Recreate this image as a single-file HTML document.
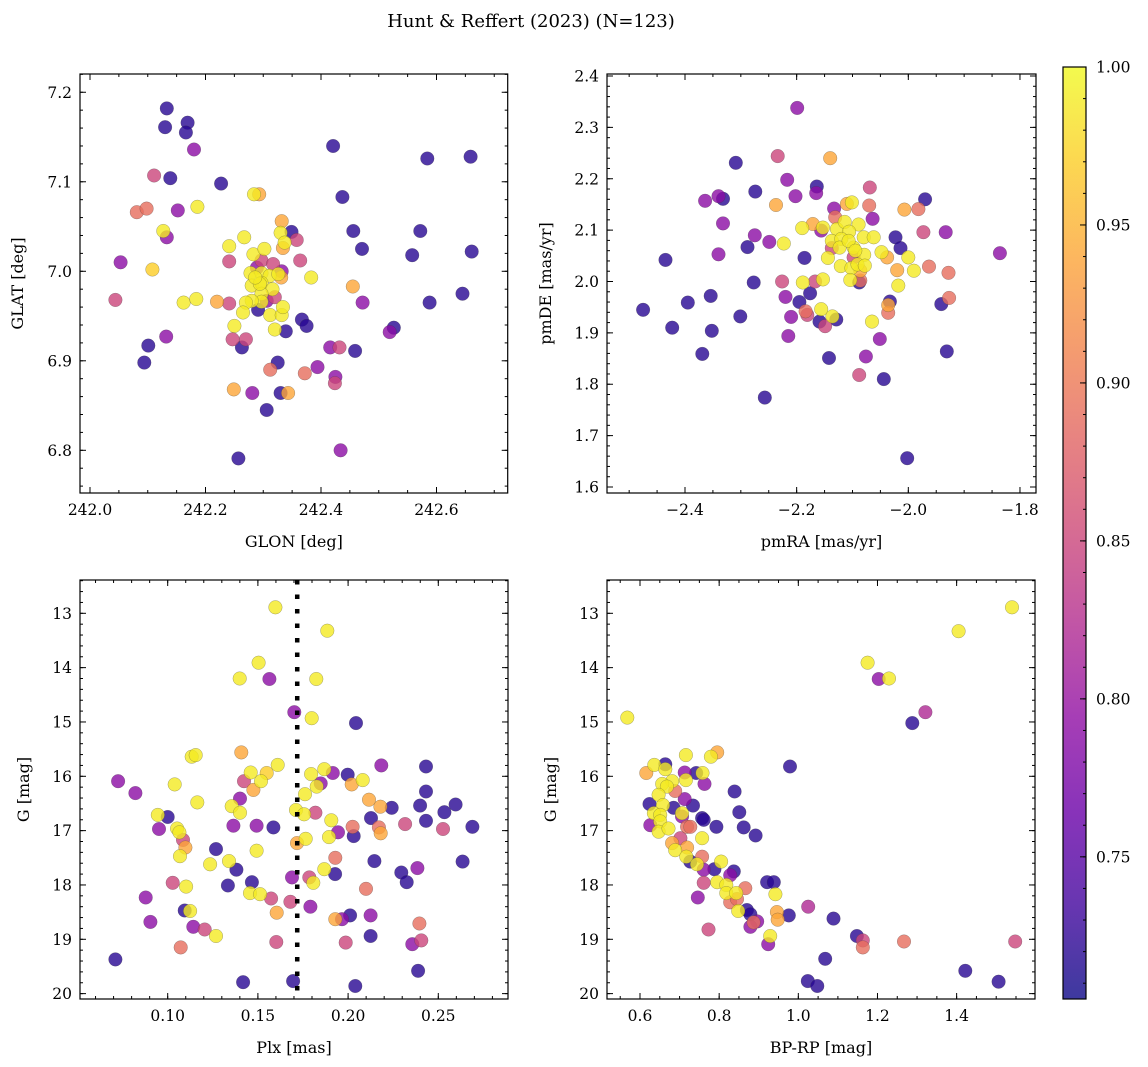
<!DOCTYPE html>
<html><head><meta charset="utf-8">
<style>
html,body{margin:0;padding:0;background:#fff;}
svg{display:block;font-family:"DejaVu Serif","Liberation Serif",serif;}
</style></head>
<body>
<svg id="chart" width="1148" height="1067" viewBox="0 0 1148 1067" xmlns="http://www.w3.org/2000/svg">
<text x="531" y="27" font-size="18" text-anchor="middle">Hunt &amp; Reffert (2023) (N=123)</text>
</svg>
<script>
// ---- data: top-left (GLON vs GLAT) ----
const tlGlon=[242.133,242.130,242.169,242.166,242.180,242.111,242.139,242.227,242.081,242.098,
242.152,242.186,242.284,242.293,242.127,242.133,242.053,242.108,242.241,242.267,
242.241,242.044,242.162,242.184,242.220,242.241,242.332,242.330,242.349,242.337,
242.334,242.358,242.283,242.302,242.364,242.297,242.317,242.332,242.289,242.278,
242.297,242.311,242.326,242.331,242.383,242.280,242.297,242.316,242.297,242.320,
242.306,242.297,242.280,242.270,242.291,242.265,242.312,242.332,242.334,242.250,
242.320,242.339,242.367,242.375,242.247,242.270,242.263,242.455,242.472,242.421,
242.437,242.456,242.471,242.584,242.659,242.572,242.558,242.661,242.588,242.645,
242.526,242.519,242.132,242.101,242.094,242.416,242.432,242.459,242.325,242.312,
242.372,242.394,242.425,242.424,242.249,242.281,242.330,242.343,242.306,242.257,
242.434,242.294,242.286];
const tlGlat=[7.182,7.161,7.166,7.155,7.136,7.107,7.104,7.098,7.066,7.070,
7.068,7.072,7.086,7.086,7.045,7.038,7.010,7.002,7.028,7.038,
7.011,6.968,6.965,6.969,6.966,6.964,7.056,7.043,7.044,7.032,
7.026,7.035,7.019,7.025,7.012,7.012,7.008,7.000,7.004,6.998,
6.998,6.995,6.997,6.993,6.993,6.984,6.987,6.980,6.975,6.971,
6.967,6.966,6.967,6.965,6.957,6.954,6.951,6.951,6.960,6.939,
6.935,6.933,6.946,6.939,6.924,6.924,6.915,6.983,6.965,7.140,
7.083,7.045,7.025,7.126,7.128,7.045,7.018,7.022,6.965,6.975,
6.937,6.932,6.927,6.917,6.898,6.915,6.915,6.911,6.898,6.890,
6.886,6.893,6.882,6.875,6.868,6.864,6.864,6.864,6.845,6.791,
6.800,6.986,6.993];
const tlProb=[.72,.72,.72,.72,.79,.85,.72,.72,.89,.89,
.79,.99,.99,.94,.99,.79,.79,.97,.99,.99,
.85,.85,.99,.99,.94,.85,.94,.99,.72,.99,
.94,.85,.99,.99,.85,.85,.85,.79,.79,.99,
.99,.99,.99,.94,.99,.99,.99,.99,.99,.85,
.79,.99,.99,.99,.72,.99,.99,.99,.99,.99,
.99,.72,.72,.72,.85,.85,.72,.94,.79,.72,
.72,.72,.72,.72,.72,.72,.72,.72,.72,.72,
.72,.79,.79,.72,.72,.79,.85,.72,.72,.89,
.89,.79,.79,.85,.94,.79,.72,.94,.72,.72,
.79,.99,.99];
// ---- data: top-right (pmRA vs pmDE) ----
const trPmra=[-2.199,-2.309,-2.234,-2.140,-2.217,-2.164,-2.165,-2.202,-2.274,-2.364,
-2.340,-2.332,-2.332,-2.237,-2.069,-2.110,-2.101,-2.070,-2.133,-2.131,
-2.064,-1.970,-2.007,-1.982,-2.275,-2.249,-2.288,-2.340,-2.435,-2.223,
-2.190,-2.171,-2.153,-2.156,-2.128,-2.114,-2.089,-2.106,-2.080,-2.137,
-2.120,-2.123,-2.098,-2.137,-2.062,-2.023,-2.014,-2.048,-2.038,-2.079,
-2.098,-2.144,-2.121,-2.102,-2.091,-2.078,-2.086,-2.000,-2.020,-1.990,
-1.963,-1.973,-1.933,-1.928,-1.836,-2.186,-2.104,-2.088,-2.086,-2.153,
-2.167,-2.189,-2.226,-2.277,-2.176,-2.220,-2.195,-2.018,-2.033,-2.036,
-2.036,-1.941,-1.927,-2.184,-2.181,-2.156,-2.159,-2.149,-2.136,-2.129,
-2.065,-2.210,-2.215,-2.301,-2.354,-2.395,-2.475,-2.423,-2.352,-2.369,
-2.142,-2.076,-2.051,-2.088,-2.044,-1.931,-2.257,-2.002,-2.107,-2.095];
const trPmde=[2.338,2.231,2.244,2.240,2.198,2.185,2.172,2.166,2.175,2.157,
2.166,2.161,2.113,2.149,2.183,2.151,2.154,2.148,2.142,2.125,
2.122,2.160,2.140,2.141,2.090,2.077,2.067,2.053,2.042,2.074,
2.104,2.112,2.105,2.099,2.102,2.116,2.111,2.097,2.086,2.079,
2.083,2.066,2.066,2.065,2.086,2.086,2.065,2.057,2.047,2.052,
2.047,2.046,2.030,2.026,2.033,2.031,2.021,2.047,2.022,2.021,
2.029,2.096,2.096,2.017,2.055,2.046,2.003,1.998,2.002,2.004,
2.000,1.998,2.000,1.998,1.977,1.970,1.960,1.992,1.961,1.954,
1.939,1.956,1.968,1.942,1.935,1.946,1.922,1.913,1.932,1.926,
1.922,1.931,1.894,1.932,1.972,1.959,1.945,1.910,1.904,1.859,
1.851,1.854,1.888,1.818,1.810,1.864,1.774,1.656,2.079,2.060];
const trProb=[.79,.72,.85,.94,.79,.72,.79,.79,.72,.79,
.79,.72,.79,.94,.85,.94,.99,.89,.79,.89,
.79,.72,.94,.89,.79,.79,.72,.79,.72,.99,
.99,.94,.99,.79,.99,.99,.99,.99,.99,.99,
.99,.99,.99,.85,.99,.72,.72,.99,.94,.99,
.85,.99,.99,.99,.99,.99,.94,.99,.94,.99,
.89,.85,.79,.89,.79,.72,.99,.72,.89,.99,
.85,.99,.85,.72,.72,.79,.72,.99,.72,.94,
.89,.72,.89,.89,.85,.99,.72,.85,.99,.72,
.99,.79,.79,.72,.72,.72,.72,.72,.72,.72,
.72,.79,.79,.85,.72,.72,.72,.72,.99,.99];
// ---- data: bottom-left (Plx vs G) ----
const blPlx=[0.1597,0.1885,0.1504,0.1399,0.1564,0.1824,0.1702,0.1798,0.2044,0.1408,
0.1133,0.1155,0.1610,0.1460,0.1549,0.1517,0.1423,0.1475,0.0725,0.0821,
0.1039,0.1164,0.1401,0.1355,0.1401,0.0945,0.1000,0.0952,0.1052,0.1065,
0.1085,0.1098,0.1068,0.1268,0.1235,0.1340,0.1364,0.1493,0.1586,0.1493,
0.1381,0.1334,0.1467,0.1456,0.1512,0.1573,0.1604,0.1680,0.1689,0.1028,
0.1102,0.0878,0.1094,0.1124,0.0904,0.1142,0.1205,0.1268,0.1072,0.0710,
0.1602,0.1418,0.1695,0.2040,0.1795,0.1868,0.1915,0.1848,0.1826,0.1761,
0.1711,0.1756,0.1819,0.1907,0.1894,0.1944,0.1765,0.1717,0.1998,0.2020,
0.2081,0.2116,0.2179,0.2184,0.2432,0.2432,0.2399,0.2242,0.2127,0.2025,
0.2031,0.2171,0.2181,0.2316,0.2432,0.2534,0.2596,0.2526,0.2689,0.2146,
0.1929,0.1928,0.1868,0.1785,0.1807,0.2099,0.2295,0.2384,0.2325,0.1791,
0.1929,0.1966,0.2011,0.2125,0.2125,0.1987,0.2395,0.2356,0.2406,0.2388,0.2635];
const blG=[12.89,13.32,13.91,14.20,14.21,14.21,14.82,14.93,15.02,15.56,
15.64,15.61,15.79,15.93,15.94,16.09,16.09,16.25,16.09,16.31,
16.15,16.48,16.41,16.55,16.67,16.71,16.75,16.97,16.96,17.03,
17.17,17.31,17.47,17.34,17.62,17.56,16.91,16.91,16.94,17.37,
17.72,18.01,17.95,18.15,18.17,18.25,18.51,18.31,17.86,17.96,
18.03,18.23,18.47,18.48,18.68,18.77,18.82,18.94,19.15,19.37,
19.05,19.79,19.77,19.86,15.96,15.87,15.94,16.13,16.19,16.33,
16.62,16.70,16.67,16.81,17.12,17.03,17.15,17.23,15.97,16.15,
16.07,16.43,16.56,15.80,15.82,16.28,16.54,16.58,16.77,16.93,
17.10,16.94,17.05,16.88,16.82,16.66,16.52,16.97,16.93,17.56,
17.50,17.80,17.71,17.86,17.96,18.07,17.77,17.69,17.95,18.40,
18.63,18.63,18.56,18.56,18.94,19.06,18.71,19.09,19.02,19.58,17.57];
const blProb=[.99,.99,.99,.99,.79,.99,.79,.99,.72,.94,
.99,.99,.99,.99,.97,.99,.85,.94,.79,.79,
.99,.99,.79,.99,.99,.99,.72,.79,.99,.99,
.85,.94,.99,.72,.99,.99,.79,.79,.72,.99,
.72,.72,.72,.99,.99,.85,.94,.85,.79,.85,
.99,.79,.72,.99,.79,.79,.85,.99,.89,.72,
.85,.72,.72,.72,.99,.99,.79,.79,.99,.99,
.99,.99,.85,.99,.99,.79,.99,.94,.72,.94,
.99,.94,.94,.79,.72,.72,.72,.72,.72,.89,
.72,.89,.94,.85,.72,.72,.72,.85,.72,.72,
.89,.72,.99,.85,.99,.89,.72,.79,.72,.79,
.94,.79,.72,.79,.72,.85,.89,.79,.85,.72,.72];
const plxCut=0.1718;
// ---- data: bottom-right (BP-RP vs G) ----
const brBprp=[1.540,1.405,1.175,1.203,1.229,1.321,1.288,0.568,0.979,0.716,
0.779,0.795,0.616,0.636,0.664,0.664,0.713,0.742,0.758,0.763,
0.716,0.681,0.656,0.668,0.689,0.713,0.647,0.624,0.658,0.685,
0.734,0.706,0.757,0.761,0.635,0.651,0.626,0.651,0.706,0.719,
0.727,0.647,0.672,0.702,0.757,0.793,0.839,0.851,0.862,0.892,
0.681,0.689,0.719,0.717,0.727,0.757,0.744,0.761,0.788,0.805,
0.795,0.761,0.837,0.828,0.818,0.818,0.843,0.866,0.828,0.845,
0.746,0.921,0.938,0.942,0.848,0.870,0.879,0.896,0.887,0.879,
0.773,0.946,0.948,0.976,1.025,0.929,0.924,1.089,1.148,1.163,
1.163,1.267,1.548,1.068,1.024,1.048,1.422,1.506];
const brG=[12.89,13.33,13.91,14.21,14.20,14.82,15.02,14.92,15.82,15.61,
15.64,15.56,15.94,15.79,15.78,15.87,15.93,15.94,15.94,16.14,
16.07,16.09,16.14,16.19,16.27,16.42,16.34,16.51,16.53,16.58,
16.54,16.68,16.77,16.80,16.68,16.71,16.90,16.83,16.74,16.93,
16.93,17.02,16.96,17.14,17.14,16.93,16.28,16.66,16.94,17.09,
17.23,17.36,17.31,17.48,17.57,17.48,17.62,17.72,17.71,17.57,
17.95,17.96,17.75,17.82,18.00,18.15,18.15,18.06,18.32,18.26,
18.23,17.95,17.95,18.17,18.48,18.46,18.54,18.67,18.69,18.77,
18.82,18.50,18.64,18.56,18.40,18.94,19.09,18.62,18.94,19.02,
19.15,19.04,19.04,19.36,19.77,19.86,19.58,19.78];
const brProb=[.99,.99,.99,.79,.99,.82,.72,.99,.72,.99,
.99,.94,.94,.99,.72,.99,.79,.72,.99,.79,
.99,.99,.99,.99,.89,.79,.99,.72,.99,.72,
.72,.99,.72,.72,.99,.99,.79,.99,.79,.89,
.89,.99,.99,.85,.99,.72,.72,.72,.72,.72,
.94,.99,.94,.99,.72,.89,.99,.79,.72,.99,
.99,.85,.72,.79,.99,.99,.99,.89,.89,.89,
.79,.72,.72,.99,.99,.72,.72,.79,.89,.79,
.85,.94,.94,.72,.82,.99,.79,.72,.72,.85,
.89,.89,.85,.72,.72,.72,.72,.72];
const cbTicks=[0.75,0.80,0.85,0.90,0.95,1.00];
const cbMin=0.705, cbMax=1.0;

const NS="http://www.w3.org/2000/svg";
const svg=document.getElementById('chart');
function mk(tag,attrs,parent){const e=document.createElementNS(NS,tag);for(const k in attrs)e.setAttribute(k,attrs[k]);(parent||svg).appendChild(e);return e;}
const stops=[[13,8,135],[65,4,157],[106,0,168],[143,13,164],[177,42,144],[204,71,120],[225,100,98],[242,132,75],[252,166,54],[252,206,37],[240,249,33]];
function plasma(t){t=Math.max(0,Math.min(1,t));const f=t*10,i=Math.min(9,Math.floor(f)),u=f-i;const a=stops[i],b=stops[i+1];return 'rgb('+[0,1,2].map(k=>Math.round(a[k]+(b[k]-a[k])*u)).join(',')+')';}
function fmt(v,d){return (v<0?'\u2212':'')+Math.abs(v).toFixed(d);}

function panel(cfg){
  const g=mk('g',{});
  
  
  const sx=v=>cfg.x0+(v-cfg.xd[0])/(cfg.xd[1]-cfg.xd[0])*(cfg.x1-cfg.x0);
  const sy=v=>cfg.yinv? cfg.y0+(v-cfg.yd[0])/(cfg.yd[1]-cfg.yd[0])*(cfg.y1-cfg.y0)
                      : cfg.y1-(v-cfg.yd[0])/(cfg.yd[1]-cfg.yd[0])*(cfg.y1-cfg.y0);
  const clip='clip-'+cfg.name;
  const cp=mk('clipPath',{id:clip},g);mk('rect',{x:cfg.x0,y:cfg.y0,width:cfg.x1-cfg.x0,height:cfg.y1-cfg.y0},cp);
  const pg=mk('g',{'clip-path':'url(#'+clip+')'},g);
  const idx=cfg.xs.map((_,i)=>i).sort((a,b)=>cfg.ps[a]-cfg.ps[b]);
  idx.forEach(i=>{
    const c=mk('circle',{cx:sx(cfg.xs[i]).toFixed(1),cy:sy(cfg.ys[i]).toFixed(1),r:6.8,fill:plasma((cfg.ps[i]-cbMin)/(cbMax-cbMin)),'fill-opacity':0.8,stroke:'rgba(60,60,60,0.45)','stroke-width':0.5},pg);
    
    
  });
  if(cfg.vline!==undefined){
    const l=mk('line',{x1:sx(cfg.vline),x2:sx(cfg.vline),y1:cfg.y0,y2:cfg.y1,stroke:'#000','stroke-width':4.5,'stroke-dasharray':'4.5,10'},pg);
    
    
  }
  // ticks
  const tg=mk('g',{stroke:'#000','stroke-width':1},g);
  function each(d,step,fn){const s=Math.ceil(d[0]/step-1e-6);for(let k=s;k*step<=d[1]+1e-9;k++)fn(+(k*step).toFixed(6));}
  each(cfg.xd,cfg.xminor,v=>{const x=sx(v);mk('line',{x1:x,x2:x,y1:cfg.y1,y2:cfg.y1-3},tg);mk('line',{x1:x,x2:x,y1:cfg.y0,y2:cfg.y0+3},tg);});
  each(cfg.yd,cfg.yminor,v=>{const y=sy(v);mk('line',{x1:cfg.x0,x2:cfg.x0+3,y1:y,y2:y},tg);mk('line',{x1:cfg.x1,x2:cfg.x1-3,y1:y,y2:y},tg);});
  each(cfg.xd,cfg.xmajor,v=>{const x=sx(v);mk('line',{x1:x,x2:x,y1:cfg.y1,y2:cfg.y1-6},tg);mk('line',{x1:x,x2:x,y1:cfg.y0,y2:cfg.y0+6},tg);
    const t=mk('text',{x:x,y:cfg.y1+22,'font-size':15.5,'text-anchor':'middle'},g);t.textContent=fmt(v,cfg.xdec);
    });
  each(cfg.yd,cfg.ymajor,v=>{const y=sy(v);mk('line',{x1:cfg.x0,x2:cfg.x0+6,y1:y,y2:y},tg);mk('line',{x1:cfg.x1,x2:cfg.x1-6,y1:y,y2:y},tg);
    const t=mk('text',{x:cfg.x0-8,y:y+5.5,'font-size':15.5,'text-anchor':'end'},g);t.textContent=fmt(v,cfg.ydec);
    });
  const fr=mk('rect',{x:cfg.x0,y:cfg.y0,width:cfg.x1-cfg.x0,height:cfg.y1-cfg.y0,fill:'none',stroke:'#000','stroke-width':1.2},g);
  
  const xl=mk('text',{x:(cfg.x0+cfg.x1)/2,y:cfg.y1+54,'font-size':16,'text-anchor':'middle'},g);xl.textContent=cfg.xlabel;
  
  const yl=mk('text',{x:0,y:0,'font-size':16,'text-anchor':'middle',transform:'translate('+cfg.ylx+','+((cfg.y0+cfg.y1)/2)+') rotate(-90)'},g);yl.textContent=cfg.ylabel;
  
}

panel({name:'glon-glat-panel',x0:80,x1:507.7,y0:74,y1:493,xd:[241.98268,242.7233],yd:[6.7523,7.2204],
  xs:tlGlon,ys:tlGlat,ps:tlProb,xmajor:0.2,xminor:0.05,ymajor:0.1,yminor:0.02,xdec:1,ydec:1,
  xlabel:'GLON [deg]',ylabel:'GLAT [deg]',ylx:23});
panel({name:'pm-panel',x0:607,x1:1036,y0:74,y1:493,xd:[-2.5397,-1.7713],yd:[1.5883,2.4039],
  xs:trPmra,ys:trPmde,ps:trProb,xmajor:0.2,xminor:0.05,ymajor:0.1,yminor:0.02,xdec:1,ydec:1,
  xlabel:'pmRA [mas/yr]',ylabel:'pmDE [mas/yr]',ylx:551});
panel({name:'plx-g-panel',x0:80,x1:508,y0:580,y1:999,xd:[0.05139,0.28864],yd:[12.387,20.099],yinv:true,
  xs:blPlx,ys:blG,ps:blProb,xmajor:0.05,xminor:0.01,ymajor:1,yminor:0.2,xdec:2,ydec:0,
  xlabel:'Plx [mas]',ylabel:'G [mag]',ylx:29,vline:plxCut});
panel({name:'cmd-panel',x0:607,x1:1035,y0:580,y1:999,xd:[0.5166,1.598],yd:[12.387,20.099],yinv:true,
  xs:brBprp,ys:brG,ps:brProb,xmajor:0.2,xminor:0.05,ymajor:1,yminor:0.2,xdec:1,ydec:0,
  xlabel:'BP-RP [mag]',ylabel:'G [mag]',ylx:556});

// colorbar
const cb=mk('g',{});


const defs=mk('defs',{},cb);
const lg=mk('linearGradient',{id:'cbgrad',x1:0,y1:1,x2:0,y2:0},defs);
for(let i=0;i<=20;i++)mk('stop',{offset:(i/20),'stop-color':plasma(i/20)},lg);
const cbx0=1063,cbx1=1086,cby0=67,cby1=999;
mk('rect',{x:cbx0,y:cby0,width:cbx1-cbx0,height:cby1-cby0,fill:'url(#cbgrad)','fill-opacity':0.8},cb);
const cy=v=>cby1-(v-cbMin)/(cbMax-cbMin)*(cby1-cby0);
for(let k=71;k<=100;k++){const v=k/100;const y=cy(v);mk('line',{x1:cbx1,x2:cbx1-3,y1:y,y2:y,stroke:'#000','stroke-width':1},cb);}
cbTicks.forEach(v=>{const y=cy(v);mk('line',{x1:cbx1,x2:cbx1-6,y1:y,y2:y,stroke:'#000','stroke-width':1},cb);
  const t=mk('text',{x:cbx1+10,y:y+5.5,'font-size':15.5},cb);t.textContent=v.toFixed(2);
  });
mk('rect',{x:cbx0,y:cby0,width:cbx1-cbx0,height:cby1-cby0,fill:'none',stroke:'#000','stroke-width':1.2},cb);
</script>
</body></html>
